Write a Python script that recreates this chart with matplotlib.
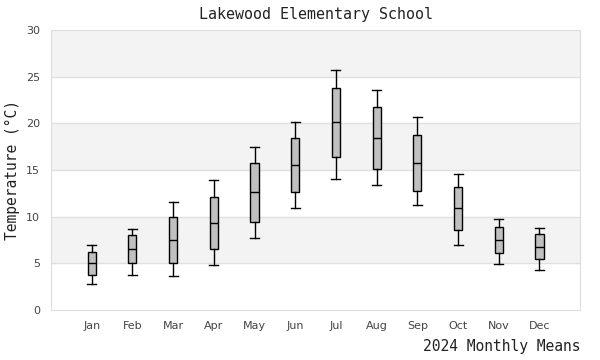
import matplotlib
matplotlib.use("Agg")
import matplotlib.pyplot as plt

months = ["Jan", "Feb", "Mar", "Apr", "May", "Jun", "Jul", "Aug", "Sep", "Oct", "Nov", "Dec"]
whislo = [2.75, 3.71, 3.61, 4.79, 7.68, 10.89, 14.0, 13.36, 11.21, 6.93, 4.89, 4.25]
q1 = [3.71, 5.0, 5.0, 6.5, 9.39, 12.61, 16.36, 15.07, 12.71, 8.54, 6.07, 5.43]
med = [5.0, 6.5, 7.46, 9.29, 12.61, 15.5, 20.14, 18.39, 15.71, 10.89, 7.5, 6.71]
q3 = [6.18, 8.0, 9.93, 12.07, 15.71, 18.39, 23.75, 21.71, 18.71, 13.14, 8.86, 8.11]
whishi = [6.93, 8.71, 11.54, 13.89, 17.43, 20.14, 25.68, 23.54, 20.64, 14.54, 9.71, 8.75]

stats = []
for i in range(len(months)):
    stats.append({"label": months[i], "whislo": whislo[i], "q1": q1[i], "med": med[i],
                  "q3": q3[i], "whishi": whishi[i], "fliers": []})

mono = "DejaVu Sans Mono"

fig = plt.figure(figsize=(6, 3.6), dpi=100)
ax = fig.add_axes([0.085, 0.139, 0.882, 0.778])

# alternating bands
for lo in range(5, 30, 10):
    ax.axhspan(lo, lo + 5, color="#f3f3f3", zorder=0, lw=0)
for y in range(5, 30, 5):
    ax.axhline(y, color="#e0e0e0", lw=1, zorder=1)

ax.bxp(stats, positions=range(len(months)), widths=0.2, capwidths=0.22,
       patch_artist=True, showfliers=False,
       boxprops=dict(facecolor="#c0c0c0", edgecolor="black", linewidth=1),
       medianprops=dict(color="black", linewidth=1),
       whiskerprops=dict(color="black", linewidth=1),
       capprops=dict(color="black", linewidth=1))

ax.set_xlim(-1, 12)
ax.set_ylim(0, 30)
ax.set_yticks(range(0, 31, 5))
ax.set_xticks(range(len(months)))
ax.set_xticklabels(months)
ax.tick_params(length=0, labelsize=8, labelcolor="#444444", pad=8)
for s in ax.spines.values():
    s.set_color("#dddddd")

ax.set_title("Lakewood Elementary School", family=mono, fontsize=10.8, color="#222222", pad=8)
ax.set_ylabel("Temperature (°C)", family=mono, fontsize=10.5, color="#222222")
ax.yaxis.set_label_coords(-0.059, 0.5)
ax.set_xlabel("2024 Monthly Means", family=mono, fontsize=10.5, color="#222222", loc="right", labelpad=6)

fig.savefig("out.png", dpi=100)
